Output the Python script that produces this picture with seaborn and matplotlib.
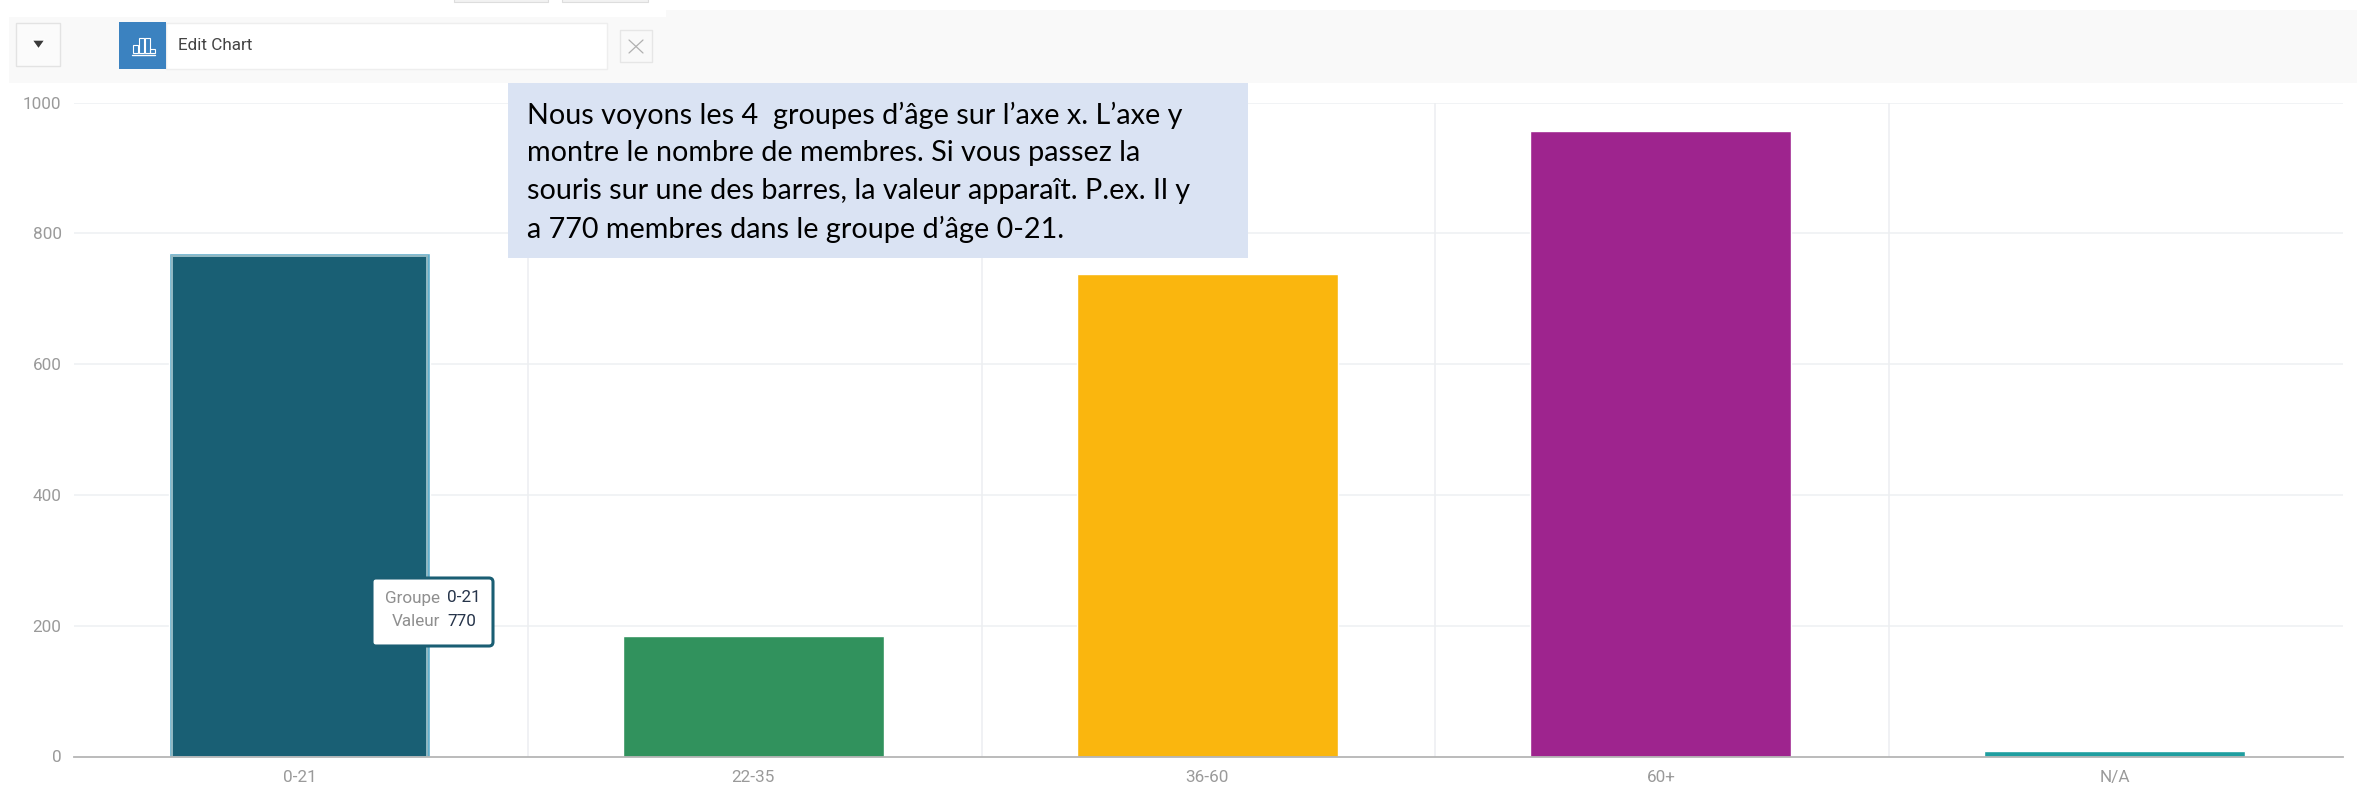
import matplotlib
matplotlib.use("Agg")
import matplotlib.pyplot as plt
from matplotlib.patches import Rectangle, FancyBboxPatch, Polygon
import pandas as pd
import seaborn as sns

groups = ["0-21", "22-35", "36-60", "60+", "N/A"]
members = [770, 185, 738, 957, 8]
bar_colors = ["#195f74", "#31925d", "#fab60e", "#9e248e", "#1f9ea0"]
y_ticks = [0, 200, 400, 600, 800, 1000]
note_lines = [
    "Nous voyons les 4  groupes d’âge sur l’axe x. L’axe y",
    "montre le nombre de membres. Si vous passez la",
    "souris sur une des barres, la valeur apparaît. P.ex. Il y",
    "a 770 membres dans le groupe d’âge 0-21.",
]

W, H = 2357, 793
sns.set_theme(style="white")
plt.rcParams["font.family"] = ["Roboto", "DejaVu Sans"]

fig = plt.figure(figsize=(W / 100, H / 100), dpi=100, facecolor="white")
ax = fig.add_axes([74 / W, 1 - 756.5 / H, (2343 - 74) / W, (756.5 - 102.7) / H])

df = pd.DataFrame({"Groupe": groups, "Valeur": members})
sns.barplot(data=df, x="Groupe", y="Valeur", hue="Groupe", palette=bar_colors,
            order=groups, hue_order=groups, width=0.575, saturation=1,
            legend=False, ax=ax, zorder=3)

ax.set_xlim(-0.497, 4.503)
ax.set_ylim(0, 1000)
ax.set_xlabel("")
ax.set_ylabel("")
ax.set_yticks(y_ticks)
ax.set_xticks(range(len(groups)))
ax.set_xticklabels(groups)
ax.tick_params(axis="x", length=0, pad=10, labelsize=12.3, labelcolor="#9a9a9a")
ax.tick_params(axis="y", length=0, pad=9, labelsize=12.3, labelcolor="#9a9a9a")

ax.grid(False)
for v in y_ticks[1:]:
    ax.axhline(v, color="#eef0f3", lw=1.1, zorder=1)
for i in range(len(groups) - 1):
    ax.axvline(i + 0.503, color="#eceef1", lw=1.1, zorder=1)
for s in ["top", "right", "left"]:
    ax.spines[s].set_visible(False)
ax.spines["bottom"].set_color("#b5b5b5")
ax.spines["bottom"].set_linewidth(1.3)
ax.spines["bottom"].set_zorder(5)

# hover highlight on the first bar: two inset rings inside the bar's own extent
hover = ax.patches[0]
hover.set_facecolor("#62aecb")
bb = hover.get_window_extent()
for inset, col in [(2, "#8fb7c2"), (4, bar_colors[0])]:
    fig.add_artist(Rectangle((bb.x0 + inset, bb.y0 + 1), bb.width - 2 * inset, bb.height - inset - 1,
                             transform=None, fc=col, ec="none", zorder=3))

# interface chrome in pixel coordinates
ui = fig.add_axes([0, 0, 1, 1], zorder=10)
ui.set_xlim(0, W)
ui.set_ylim(H, 0)
ui.axis("off")
ui.patch.set_alpha(0)

def box(x0, y0, x1, y1, fc, ec="none", lw=0, z=1):
    ui.add_patch(Rectangle((x0, y0), x1 - x0, y1 - y0, fc=fc, ec=ec, lw=lw, zorder=z))

box(9, 17, 666, 83, "#f9f9f9")
box(666, 10, W, 83, "#f9f9f9")
box(454, -2, 548, 2, "#f2f2f2", "#dddddd", 0.8)
box(562, -2, 648, 2, "#f2f2f2", "#dddddd", 0.8)
box(16, 23, 60, 66, "#fbfbfb", "#e3e3e3", 1, 2)
ui.add_patch(Polygon([(32, 40), (45, 40), (38.5, 49)], fc="#3a3a3a", zorder=3))
box(166, 23, 607, 69, "white", "#eeeeee", 1, 2)
box(119, 22, 166, 69, "#3b82c0", z=3)
for bx, by in [(133, 45), (139, 38), (145, 38), (150, 49)]:
    ui.add_patch(Rectangle((bx, by), 4.5, 53 - by, fc="none", ec="white", lw=0.8, zorder=4))
ui.plot([132, 155], [54.5, 54.5], color="white", lw=1, zorder=4)
ui.text(178, 46, "Edit Chart", fontsize=12.3, color="#444444", va="center", ha="left", zorder=4)
box(620, 30, 652, 62, "#f9f9f9", "#e6e6e6", 1, 2)
ui.plot([629, 643], [40, 53], color="#b0b0b0", lw=0.9, zorder=3)
ui.plot([643, 629], [40, 53], color="#b0b0b0", lw=0.9, zorder=3)

# note box
box(508, 83, 1248, 258, "#dae3f3", z=5)
for line, yc in zip(note_lines, [115, 153, 191, 229]):
    ui.text(527, yc, line, family=["Lato", "DejaVu Sans"], fontsize=20.7, color="black",
            va="center", ha="left", zorder=6)

# tooltip
ui.add_patch(FancyBboxPatch((372, 578), 121, 68, boxstyle="round,pad=0,rounding_size=4",
                            fc="white", ec="#1a5e73", lw=2.2, zorder=7))
ui.text(440, 598, "Groupe", fontsize=12.3, color="#8f8f8f", ha="right", va="center", zorder=9)
ui.text(447, 598, groups[0], fontsize=12.3, color="#26344a", ha="left", va="center", zorder=9)
ui.text(440, 622, "Valeur", fontsize=12.3, color="#8f8f8f", ha="right", va="center", zorder=9)
ui.text(447, 622, str(members[0]), fontsize=12.3, color="#26344a", ha="left", va="center", zorder=9)

fig.savefig("out.png", dpi=100, facecolor="white")
